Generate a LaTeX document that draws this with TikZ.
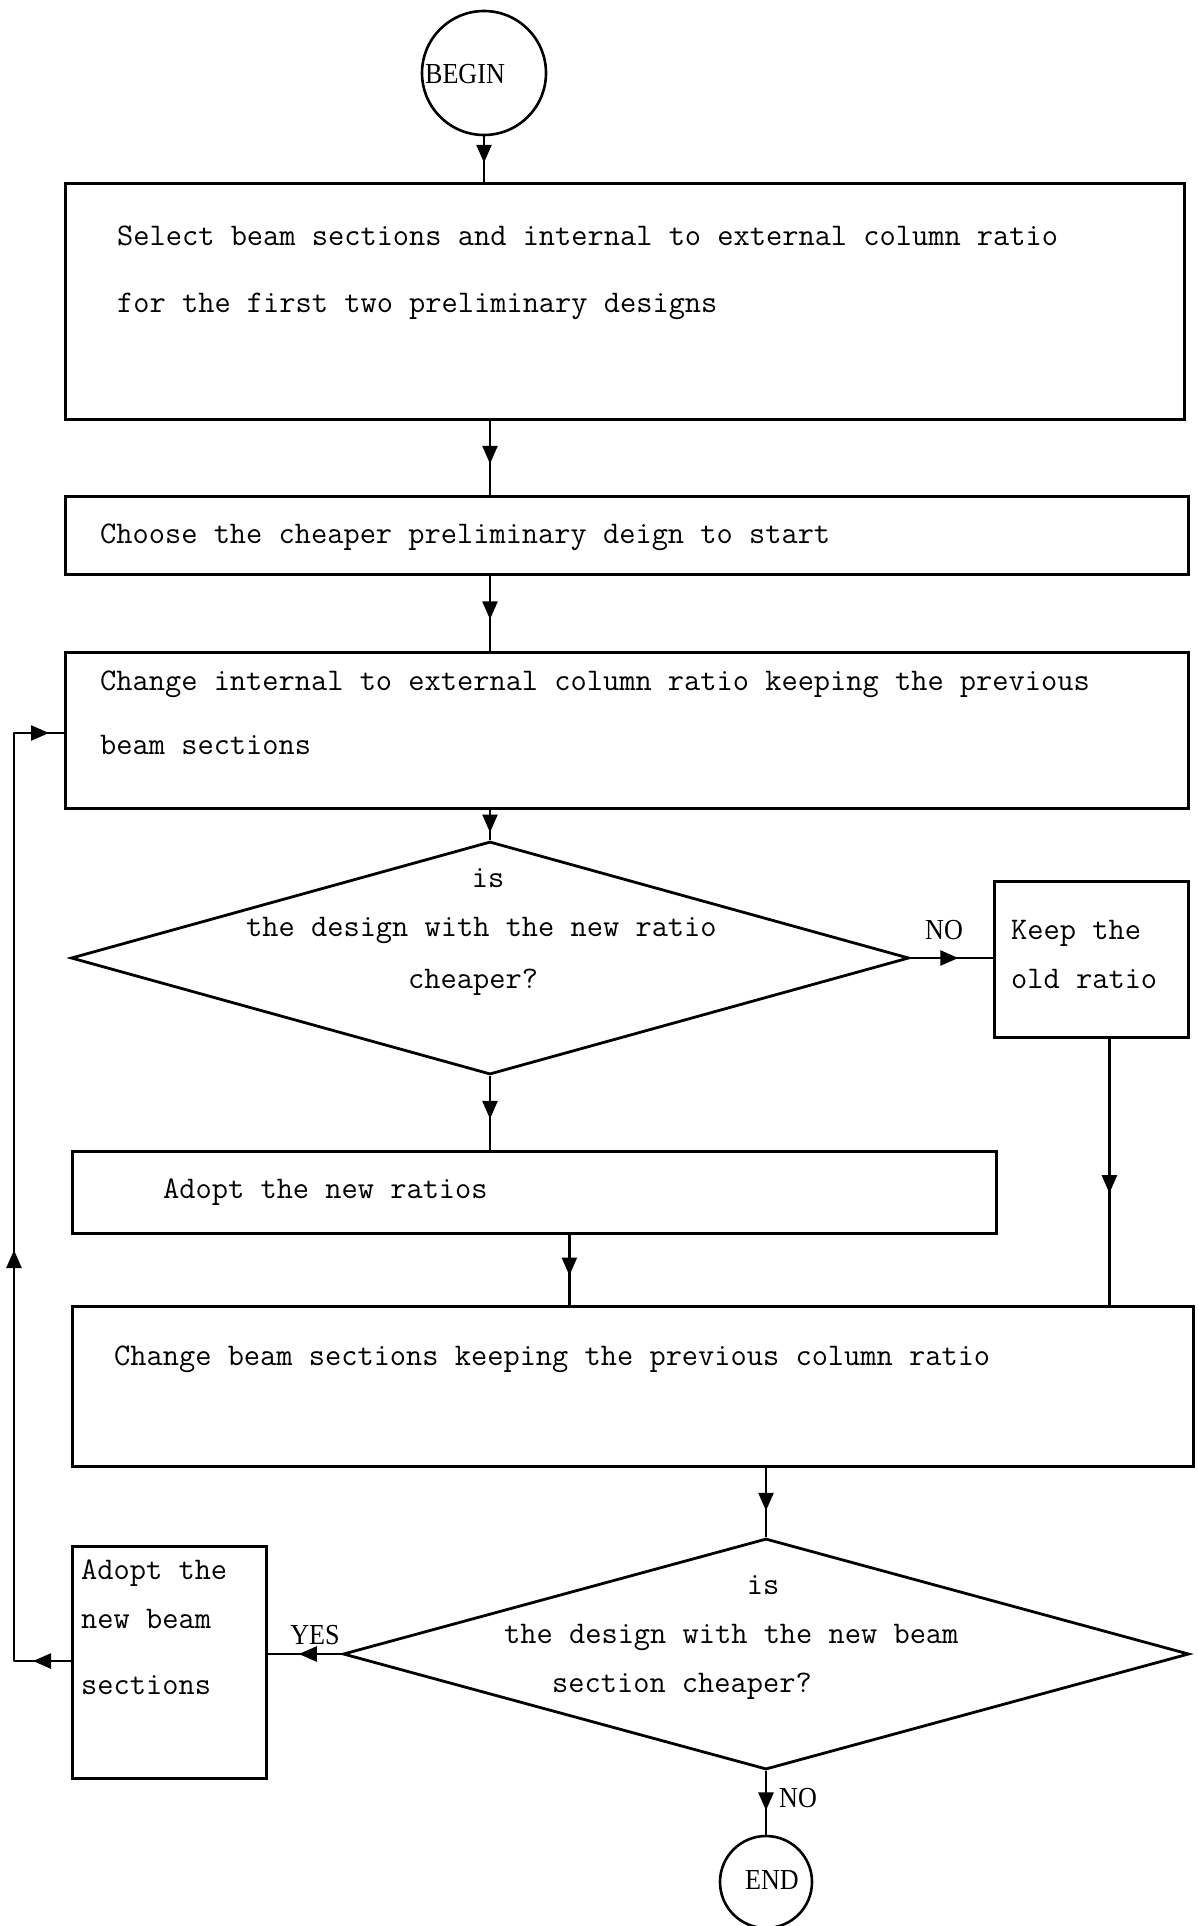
\documentclass[tikz,border=0pt]{standalone}
\usepackage{fontspec}
\newfontfamily\labelfont[FakeStretch=0.9]{Liberation Serif}
\usetikzlibrary{arrows.meta,decorations.markings,shapes.geometric}
\begin{document}
\begin{tikzpicture}[x=1pt,y=-1pt,
  >={Triangle[length=18pt,width=15pt]},
  box/.style={draw, line width=2.8pt, inner sep=0pt, anchor=north west},
  dec/.style={draw, diamond, line width=2.8pt, inner sep=0pt},
  term/.style={draw, circle, line width=2.6pt, inner sep=0pt},
  txt/.style={anchor=base west, inner sep=0pt, font=\fontsize{31.5}{36}\selectfont\ttfamily},
  ctxt/.style={anchor=base, inner sep=0pt, font=\fontsize{31.5}{36}\selectfont\ttfamily},
  lbl/.style={inner sep=0pt, font=\fontsize{29}{33}\selectfont\labelfont},
  conn/.style={line width=2.4pt, postaction={decorate},
    decoration={markings, mark=at position #1 with {\arrow{>}}}},
  conn/.default=0.58]

\useasboundingbox (0,0) rectangle (1198,1926);

% terminals
\node[term, minimum size=124pt] (begin) at (484,73) {};
\node[lbl] (begintxt) at (465,74) {BEGIN};
\node[term, minimum size=92pt] (end) at (766,1882) {};
\node[lbl] (endtxt) at (772,1880) {END};

% process boxes
\node[box, minimum width=1119pt, minimum height=236pt] (b1) at (64,182) {};
\node[txt] (b1a) at (117,246) {Select beam sections and internal to external column ratio};
\node[txt] (b1b) at (117,312) {for the first two preliminary designs};

\node[box, minimum width=1123pt, minimum height=78pt] (b2) at (64,495) {};
\node[txt] (b2a) at (100,543) {Choose the cheaper preliminary deign to start};

\node[box, minimum width=1123pt, minimum height=156pt] (b3) at (64,651) {};
\node[txt] (b3a) at (100,690) {Change internal to external column ratio keeping the previous};
\node[txt] (b3b) at (100,754) {beam sections};

\node[box, minimum width=194pt, minimum height=156pt] (keep) at (993,880) {};
\node[txt] (keepa) at (1011,939) {Keep the};
\node[txt] (keepb) at (1011,988) {old ratio};

\node[box, minimum width=924pt, minimum height=82pt] (ratios) at (71,1150) {};
\node[txt] (ratiosa) at (163,1198) {Adopt the new ratios};

\node[box, minimum width=1121pt, minimum height=160pt] (beam) at (71,1305) {};
\node[txt] (beama) at (114,1365) {Change beam sections keeping the previous column ratio};

\node[box, minimum width=194pt, minimum height=232pt] (adopt) at (71,1545) {};
\node[txt] (adopta) at (81,1579) {Adopt the};
\node[txt] (adoptb) at (81,1628) {new beam};
\node[txt] (adoptc) at (81,1694) {sections};

% decisions
\node[dec, minimum width=838pt, minimum height=233pt] (d1) at (490,958) {};
\node[ctxt] (d1a) at (488,887) {is};
\node[txt] (d1b) at (246,936) {the design with the new ratio};
\node[txt] (d1c) at (408,988) {cheaper?};

\node[dec, minimum width=846pt, minimum height=231pt] (d2) at (766,1654) {};
\node[ctxt] (d2a) at (763,1594) {is};
\node[txt] (d2b) at (504,1643) {the design with the new beam};
\node[txt] (d2c) at (552,1692) {section cheaper?};

% branch labels
\node[lbl] (no1) at (944,930) {NO};
\node[lbl] (yes) at (315,1635) {YES};
\node[lbl, anchor=west] (no2) at (779,1798) {NO};

% connectors
\draw[conn] (begin.south) -- (begin.south |- b1.north);
\draw[conn] (b1.south -| d1.north) -- (b2.north -| d1.north);
\draw[conn] (b2.south -| d1.north) -- (b3.north -| d1.north);
\draw[conn=0.75] (b3.south -| d1.north) -- (d1.north);
\draw[conn] (d1.east) -- (d1.east -| keep.west);
\draw[conn] (d1.south) -- (d1.south |- ratios.north);
\draw[conn] ([xshift=18pt]keep.south) -- ([xshift=18pt]keep.south |- beam.north);
\draw[conn] ([xshift=35pt]ratios.south) -- ([xshift=35pt]ratios.south |- beam.north);
\draw[conn=0.62] (beam.south -| d2.north) -- (d2.north);
\draw[conn] (d2.west) -- (d2.west -| adopt.east);
\draw[conn=0.62] (d2.south) -- (end.north);

% loop back to the column-ratio step
\coordinate (c1) at (14,1661);
\coordinate (c2) at (14,733);
\draw[line width=2.4pt, line join=round, postaction={decorate},
  decoration={markings,
    mark=at position 38pt with {\arrow{>}},
    mark=at position 468pt with {\arrow{>}},
    mark=at position 1020pt with {\arrow{>}}}]
  (adopt.west |- c1) -- (c1) -- (c2) -- (c2 -| b3.west);
\end{tikzpicture}
\end{document}
